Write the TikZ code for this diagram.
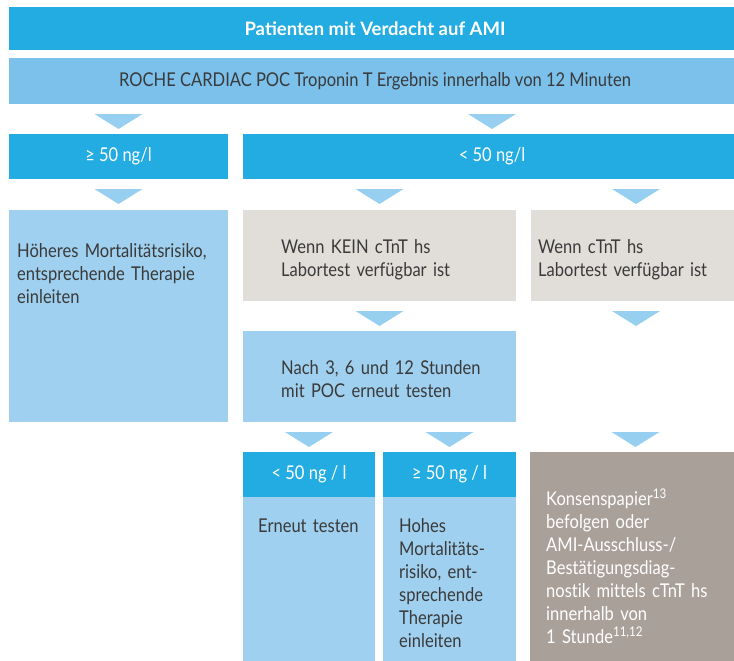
\documentclass[tikz,border=0pt]{standalone}
\usepackage{fontspec}
\setmainfont{Lato}[FakeStretch=0.87, Ligatures=NoCommon]
\newfontfamily\titlefont{Lato}
\usetikzlibrary{calc}

\definecolor{rocheblue}{HTML}{22ACE2}
\definecolor{midblue}{HTML}{7BC1EB}
\definecolor{paleblue}{HTML}{9FD0EF}
\definecolor{tipblue}{HTML}{97CFF0}
\definecolor{warmgray}{HTML}{E1DEDA}
\definecolor{taupe}{HTML}{A9A09A}
\definecolor{inkgray}{HTML}{3A3A3A}

\begin{document}
\begin{tikzpicture}[
    x=1pt, y=-1pt,
    panel/.style={anchor=north west, inner sep=0pt, outer sep=0pt},
    darkbox/.style={panel, fill=rocheblue, text=white, font=\fontsize{19}{22}\selectfont},
    midbox/.style={panel, fill=midblue, text=inkgray, font=\fontsize{19}{22}\selectfont},
    palebox/.style={panel, fill=paleblue},
    greybox/.style={panel, fill=warmgray},
    taupebox/.style={panel, fill=taupe},
    bodytext/.style={anchor=base west, inner sep=0pt, align=left, text width=200pt, text=inkgray, font=\fontsize{19}{23}\selectfont},
    tri/.style={fill=tipblue}
]
\clip (0,0) rectangle (734,661);
% top rows
\node[darkbox, minimum width=732, minimum height=43, font=\titlefont\bfseries\fontsize{18.5}{22}\selectfont] (ami) at (9,7) {Patienten mit Verdacht auf AMI};
\node[midbox, minimum width=732, minimum height=46] (test) at (9,58) {ROCHE CARDIAC POC Troponin T Ergebnis innerhalb von 12 Minuten};
\node[darkbox, minimum width=219, minimum height=45] (high) at (9,134) {≥ 50 ng/l};
\node[darkbox, minimum width=498, minimum height=45] (low) at (243,134) {< 50 ng/l};
% middle
\node[palebox, minimum width=219, minimum height=212] (highres) at (9,210) {};
\node[greybox, minimum width=273, minimum height=91] (nolab) at (243,210) {};
\node[greybox, minimum width=210, minimum height=91] (lab) at (531,210) {};
\node[palebox, minimum width=273, minimum height=91] (retest) at (243,331) {};
\coordinate (labgap) at (lab.south |- retest.south);
% bottom
\node[darkbox, minimum width=132, minimum height=45] (lowhead) at (243,452) {< 50 ng / l};
\node[palebox, minimum width=132, minimum height=170] (lowbody) at (243,497) {};
\node[darkbox, minimum width=133, minimum height=45] (highhead) at (383,452) {≥ 50 ng / l};
\node[palebox, minimum width=133, minimum height=170] (highbody) at (383,497) {};
\node[taupebox, minimum width=211, minimum height=215] (consensus) at (530,452) {};

\node[bodytext] (highres-txt) at ([shift={(8,47)}]highres.north west) {Höheres Mortalitätsrisiko,\\entsprechende Therapie\\einleiten};
\node[bodytext] (nolab-txt) at ([shift={(38,43)}]nolab.north west) {Wenn KEIN c\kern0pt TnT hs\\Labortest verfügbar ist};
\node[bodytext] (lab-txt) at ([shift={(7,43)}]lab.north west) {Wenn c\kern0pt TnT hs\\Labortest verfügbar ist};
\node[bodytext] (retest-txt) at ([shift={(38,43)}]retest.north west) {Nach 3, 6 und 12 Stunden\\mit POC erneut testen};
\node[bodytext] (lowbody-txt) at ([shift={(15,35)}]lowbody.north west) {Erneut testen};
\node[bodytext] (highbody-txt) at ([shift={(16,35)}]highbody.north west) {Hohes\\Mortalitäts-\\risiko, ent-\\sprechende\\Therapie\\einleiten};
\node[bodytext, text=white] (consensus-txt) at ([shift={(16,53)}]consensus.north west) {Konsenspapier\textsuperscript{13}\\befolgen oder\\AMI-Ausschluss-/\\Bestätigungsdiag-\\nostik mittels c\kern0pt TnT hs\\innerhalb von\\1 Stunde\textsuperscript{11,12}};

% arrow triangles
\foreach \a/\b in {test/high, test/low, high/highres, low/nolab, low/lab, nolab/retest, lab/labgap, retest/lowhead, retest/highhead, labgap/consensus}
  \fill[tri] let \p1=(\a.south), \p2=(\b.north) in
    (\x2-24pt,\y1-10pt) -- (\x2+24pt,\y1-10pt) -- (\x2,\y1-25pt) -- cycle;
\end{tikzpicture}
\end{document}
